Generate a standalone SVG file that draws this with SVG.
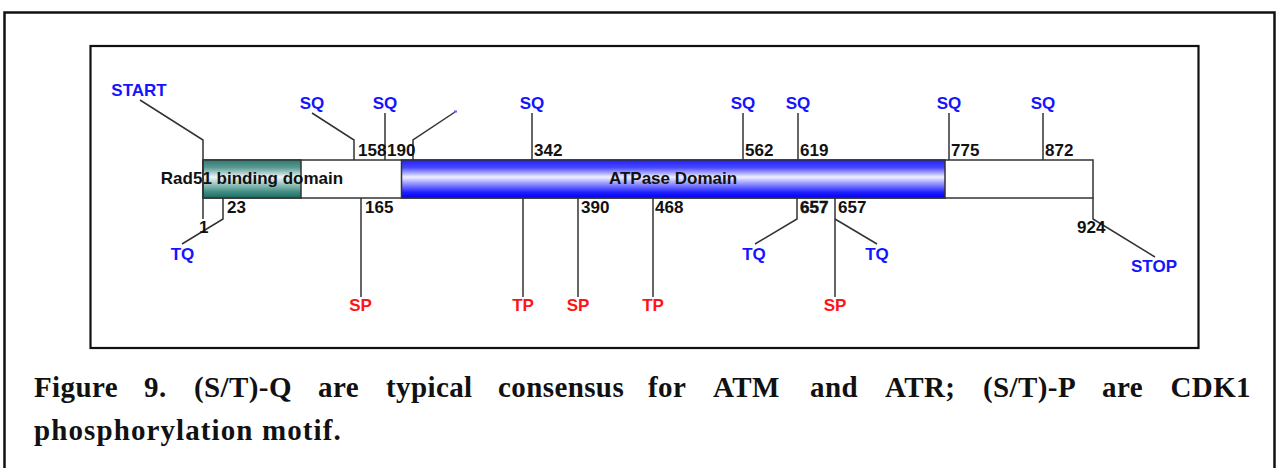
<svg xmlns="http://www.w3.org/2000/svg" width="1278" height="468" viewBox="0 0 1278 468">
<style>
.ln{fill:none;stroke:#333;stroke-width:1.5}
.num{font-family:"Liberation Sans",Arial,sans-serif;font-weight:bold;font-size:17px;fill:#111}
.blu{font-family:"Liberation Sans",Arial,sans-serif;font-weight:bold;font-size:17px;fill:#1414ff;text-anchor:middle}
.red{font-family:"Liberation Sans",Arial,sans-serif;font-weight:bold;font-size:17px;fill:#ff1414;text-anchor:middle}
.dom{font-family:"Liberation Sans",Arial,sans-serif;font-weight:bold;font-size:17px;fill:#111;text-anchor:middle}
.cap{font-family:"Liberation Serif","Times New Roman",serif;font-weight:bold;font-size:29px;fill:#111;letter-spacing:0.4px}
</style>
<defs>
<linearGradient id="gTeal" x1="0" y1="0" x2="0" y2="1">
<stop offset="0" stop-color="#2b7a70"/>
<stop offset="0.2" stop-color="#5a9a92"/>
<stop offset="0.45" stop-color="#eef6f5"/>
<stop offset="0.6" stop-color="#a8cfca"/>
<stop offset="0.85" stop-color="#3c8a80"/>
<stop offset="1" stop-color="#1b6a60"/>
</linearGradient>
<linearGradient id="gBlue" x1="0" y1="0" x2="0" y2="1">
<stop offset="0" stop-color="#2020ff"/>
<stop offset="0.2" stop-color="#4848ff"/>
<stop offset="0.45" stop-color="#f0f0ff"/>
<stop offset="0.6" stop-color="#a0a0ff"/>
<stop offset="0.85" stop-color="#2020ff"/>
<stop offset="1" stop-color="#0000ee"/>
</linearGradient>
</defs>
<rect width="1278" height="468" fill="#fff"/>
<g id="frame">
<path d="M4.5,470 V12.5 H1274.5 V470" fill="none" stroke="#111" stroke-width="2.5"/>
<rect x="90.5" y="46" width="1108" height="302" fill="none" stroke="#111" stroke-width="2.2"/>
</g>
<g id="protein-bar">
<rect x="203" y="160" width="890" height="38" fill="#fff" stroke="#333" stroke-width="1.5"/>
</g>
<g id="rad51-domain">
<rect x="203" y="160" width="98" height="38" fill="url(#gTeal)" stroke="#333" stroke-width="1.5"/>
<text class="dom" x="252" y="184">Rad51 binding domain</text>
</g>
<g id="atpase-domain">
<rect x="401.5" y="160" width="543.5" height="38" fill="url(#gBlue)" stroke="#333" stroke-width="1.5"/>
<text class="dom" x="673" y="184">ATPase Domain</text>
</g>
<g id="connectors">
<polyline class="ln" points="140,100 203,140 203,219"/>
<polyline class="ln" points="312,113 354,140 354,160"/>
<polyline class="ln" points="385,113 385,160"/>
<polyline class="ln" points="455,112 413,140 413,160"/>
<polyline class="ln" points="532,113 532,160"/>
<polyline class="ln" points="743,113 743,160"/>
<polyline class="ln" points="798,113 798,160"/>
<polyline class="ln" points="949,113 949,160"/>
<polyline class="ln" points="1043,113 1043,160"/>
<polyline class="ln" points="223,198 223,219 182,244"/>
<polyline class="ln" points="361,198 361,297"/>
<polyline class="ln" points="523,198 523,297"/>
<polyline class="ln" points="578,198 578,297"/>
<polyline class="ln" points="653,198 653,297"/>
<polyline class="ln" points="797,198 797,219 755,244"/>
<polyline class="ln" points="835,198 835,297"/>
<polyline class="ln" points="835,219 877,244"/>
<polyline class="ln" points="1093,198 1093,219 1155,257"/>
</g>
<g id="site-start"><text class="blu" x="139" y="96">START</text></g>
<g id="site-158"><text class="blu" x="312" y="109">SQ</text><text class="num" x="358" y="156">158</text></g>
<g id="site-190"><text class="blu" x="385" y="109">SQ</text><text class="num" x="387" y="156">190</text></g>
<g id="site-dot"><rect x="454" y="110.5" width="3" height="2" fill="#6060ff"/></g>
<g id="site-342"><text class="blu" x="532" y="109">SQ</text><text class="num" x="534" y="156">342</text></g>
<g id="site-562"><text class="blu" x="743" y="109">SQ</text><text class="num" x="745" y="156">562</text></g>
<g id="site-619"><text class="blu" x="798" y="109">SQ</text><text class="num" x="800" y="156">619</text></g>
<g id="site-775"><text class="blu" x="949" y="109">SQ</text><text class="num" x="951" y="156">775</text></g>
<g id="site-872"><text class="blu" x="1043" y="109">SQ</text><text class="num" x="1045" y="156">872</text></g>
<g id="site-1"><text class="num" x="199" y="233">1</text></g>
<g id="site-23"><text class="num" x="227" y="213">23</text><text class="blu" x="182.5" y="260">TQ</text></g>
<g id="site-165"><text class="num" x="365" y="213">165</text><text class="red" x="360.5" y="311">SP</text></g>
<g id="site-tp523"><text class="red" x="523" y="311">TP</text></g>
<g id="site-390"><text class="num" x="581" y="213">390</text><text class="red" x="578" y="311">SP</text></g>
<g id="site-468"><text class="num" x="655" y="213">468</text><text class="red" x="653" y="311">TP</text></g>
<g id="site-657a"><text class="num" x="800" y="213" stroke="#111" stroke-width="0.5">657</text><text class="blu" x="754" y="260">TQ</text></g>
<g id="site-657b"><text class="num" x="838" y="213">657</text><text class="red" x="835" y="311">SP</text><text class="blu" x="877" y="260">TQ</text></g>
<g id="site-924"><text class="num" x="1077" y="233">924</text><text class="blu" x="1154" y="272">STOP</text></g>
<g id="caption">
<text class="cap" y="397"><tspan x="34">Figure</tspan><tspan x="144">9.</tspan><tspan x="194">(S/T)-Q</tspan><tspan x="318">are</tspan><tspan x="386">typical</tspan><tspan x="498">consensus</tspan><tspan x="648">for</tspan><tspan x="713">ATM</tspan><tspan x="810">and</tspan><tspan x="885">ATR;</tspan><tspan x="983">(S/T)-P</tspan></text>
<text class="cap" y="397"><tspan x="1102">are</tspan></text>
<text class="cap" y="397" x="1251" text-anchor="end">CDK1</text>
<text class="cap" x="34" y="440" style="letter-spacing:1.1px">phosphorylation motif.</text>
</g>
</svg>
